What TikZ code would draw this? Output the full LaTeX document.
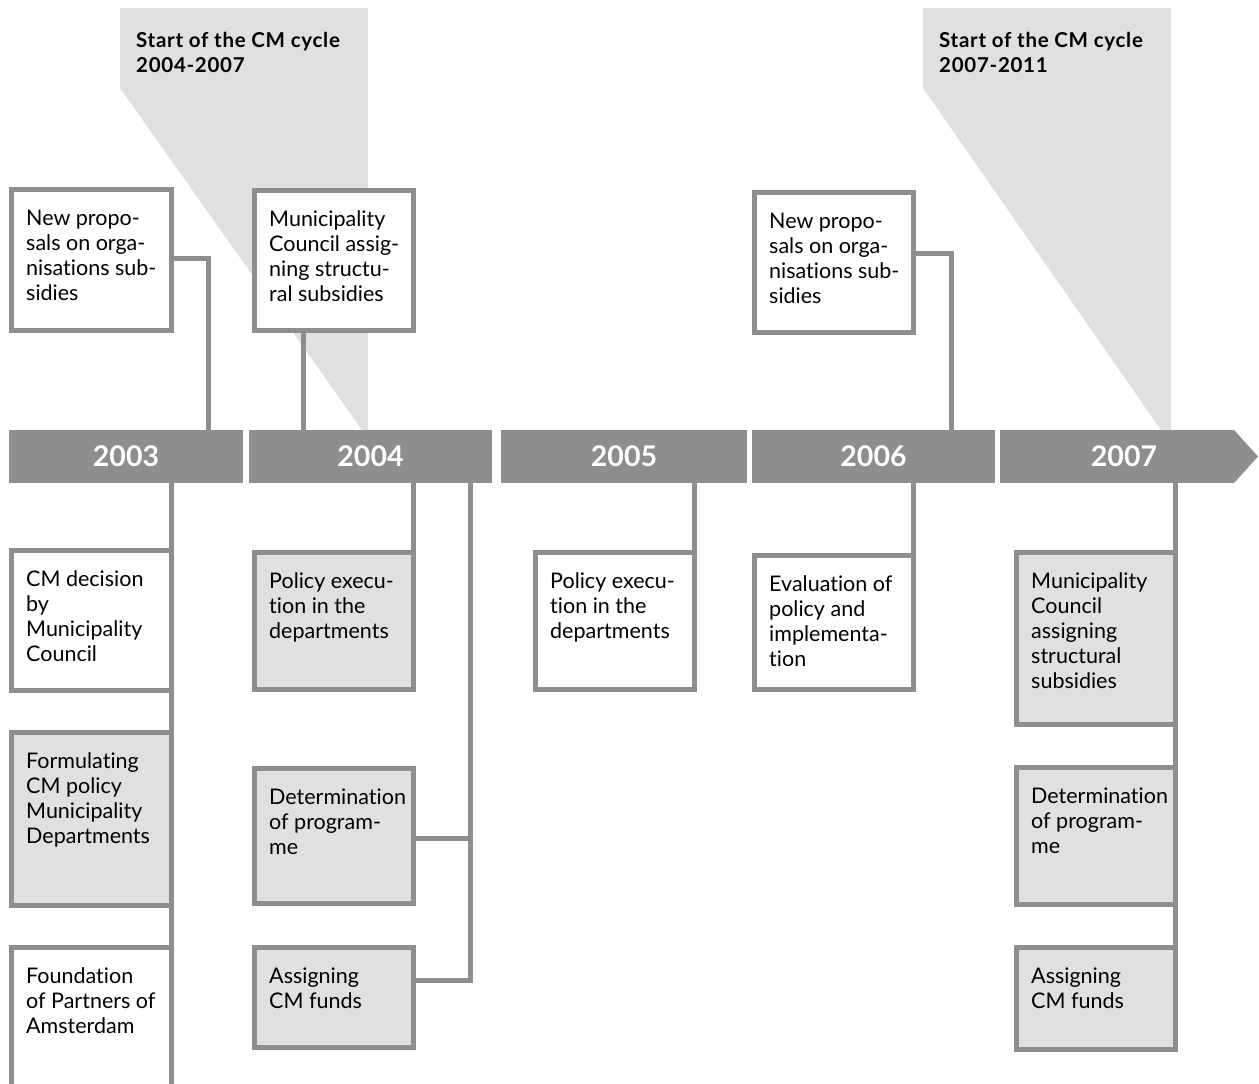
\documentclass[tikz,border=0pt]{standalone}
\usepackage{fontspec}
\setmainfont{Lato}[Ligatures=NoCommon]
\newfontfamily\calloutfont{Lato}[Ligatures=NoCommon,LetterSpace=3.5]
\definecolor{barg}{HTML}{8E8E8E}
\definecolor{lightg}{HTML}{E0E0E0}
\begin{document}
\begin{tikzpicture}[x=1pt,y=-1pt,
  box/.style={draw=barg, line width=5pt, inner sep=0pt, outer sep=0pt, anchor=north west, fill=white},
  gbox/.style={box, fill=lightg},
  conn/.style={draw=barg, line width=5pt},
  bar/.style={fill=barg, inner sep=0pt, outer sep=0pt, anchor=north west, minimum height=53pt, text=white, font=\fontsize{28.5}{28}\selectfont\bfseries},
  yearlbl/.style={inner sep=0pt, text=white, font=\fontsize{28.5}{28}\selectfont\bfseries},
  txt/.style={anchor=base west, inner sep=0pt, font=\fontsize{21.5}{25}\selectfont},
  ctxt/.style={anchor=base west, inner sep=0pt, font=\calloutfont\fontsize{20.5}{25}\selectfont\bfseries},
]
\useasboundingbox (0,0) rectangle (1259,1084);
\clip (0,0) rectangle (1259,1084);

% callouts
\fill[lightg] (120,8) -- (368,8) -- (368,430) -- (362,430) -- (120,88) -- cycle;
\fill[lightg] (923,8) -- (1171,8) -- (1171,430) -- (1161,430) -- (923,88) -- cycle;
\node[ctxt] (c1) at (136,47) {\parbox[t]{230pt}{Start of the CM cycle\\2004-2007}};
\node[ctxt] (c2) at (939,47) {\parbox[t]{230pt}{Start of the CM cycle\\2007-2011}};

% bars
\node[bar, minimum width=234pt] (y2003) at (9,430) {2003};
\node[bar, minimum width=243pt] (y2004) at (249,430) {2004};
\node[bar, minimum width=246pt] (y2005) at (501,430) {2005};
\node[bar, minimum width=243pt] (y2006) at (752,430) {2006};
\node[bar, minimum width=234pt] (y2007) at (1000,430) {};
\fill[barg] (y2007.north east) -- (1258,456.5) -- (y2007.south east) -- cycle;
\node[yearlbl] (l2007) at (1124,456.5) {2007};

% boxes
\node[box, minimum width=160pt, minimum height=141pt] (np1) at (11.5,189.5) {};
\node[box, minimum width=159pt, minimum height=140pt] (mc1) at (254.5,190.5) {};
\node[box, minimum width=159pt, minimum height=140pt] (np2) at (754.5,192.5) {};
\node[box, minimum width=160pt, minimum height=140pt] (cm) at (11.5,550.5) {};
\node[gbox, minimum width=160pt, minimum height=173pt] (form) at (11.5,732.5) {};
\node[box, minimum width=160pt, minimum height=160pt] (found) at (11.5,947.5) {};
\node[gbox, minimum width=159pt, minimum height=137pt] (pe1) at (254.5,552.5) {};
\node[gbox, minimum width=159pt, minimum height=135pt] (det1) at (254.5,768.5) {};
\node[gbox, minimum width=159pt, minimum height=100pt] (asg1) at (254.5,947.5) {};
\node[box, minimum width=159pt, minimum height=137pt] (pe2) at (535.5,552.5) {};
\node[box, minimum width=159pt, minimum height=134pt] (eval) at (754.5,555.5) {};
\node[gbox, minimum width=159pt, minimum height=172pt] (mc2) at (1016.5,552.5) {};
\node[gbox, minimum width=159pt, minimum height=137pt] (det2) at (1016.5,767.5) {};
\node[gbox, minimum width=159pt, minimum height=102pt] (asg2) at (1016.5,947.5) {};

% connectors
\coordinate (a1) at (208,258);
\coordinate (a2) at (303,400);
\coordinate (a3) at (951,253);
\coordinate (k1) at (470,838);
\coordinate (k2) at (470,980);
\coordinate (d1e) at (172,1090);
\draw[conn] (np1.east |- a1) -- (a1) -- (y2003.north -| a1);
\draw[conn] (mc1.south -| a2) -- (y2004.north -| a2);
\draw[conn] (np2.east |- a3) -- (a3) -- (y2006.north -| a3);
\draw[conn] (y2003.south -| cm.east) -- (cm.east |- d1e);
\draw[conn] (y2004.south -| pe1.east) -- (pe1.north east);
\draw[conn] (y2004.south -| k2) -- (k2) -- (asg1.east |- k2);
\draw[conn] (k1) -- (det1.east |- k1);
\draw[conn] (y2005.south -| pe2.east) -- (pe2.north east);
\draw[conn] (y2006.south -| eval.east) -- (eval.north east);
\draw[conn] (y2007.south -| mc2.east) -- (asg2.south east);

% texts
\node[txt] (t1) at ([shift={(14.5,35.5)}]np1.north west) {\parbox[t]{160pt}{New propo-\\sals on orga-\\nisations sub-\\sidies}};
\node[txt] (t2) at ([shift={(14.5,35.5)}]mc1.north west) {\parbox[t]{160pt}{Municipality\\Council assig-\\ning structu-\\ral subsidies}};
\node[txt] (t3) at ([shift={(14.5,35.5)}]np2.north west) {\parbox[t]{160pt}{New propo-\\sals on orga-\\nisations sub-\\sidies}};
\node[txt] (t4) at ([shift={(14.5,35.5)}]cm.north west) {\parbox[t]{160pt}{CM decision\\by\\Municipality\\Council}};
\node[txt] (t5) at ([shift={(14.5,35.5)}]form.north west) {\parbox[t]{160pt}{Formulating\\CM policy\\Municipality\\Departments}};
\node[txt] (t6) at ([shift={(14.5,35.5)}]found.north west) {\parbox[t]{160pt}{Foundation\\of Partners of\\Amsterdam}};
\node[txt] (t7) at ([shift={(14.5,35.5)}]pe1.north west) {\parbox[t]{160pt}{Policy execu-\\tion in the\\departments}};
\node[txt] (t8) at ([shift={(14.5,35.5)}]det1.north west) {\parbox[t]{160pt}{Determination\\of program-\\me}};
\node[txt] (t9) at ([shift={(14.5,35.5)}]asg1.north west) {\parbox[t]{160pt}{Assigning\\CM funds}};
\node[txt] (t10) at ([shift={(14.5,35.5)}]pe2.north west) {\parbox[t]{160pt}{Policy execu-\\tion in the\\departments}};
\node[txt] (t11) at ([shift={(14.5,35.5)}]eval.north west) {\parbox[t]{160pt}{Evaluation of\\policy and\\implementa-\\tion}};
\node[txt] (t12) at ([shift={(14.5,35.5)}]mc2.north west) {\parbox[t]{160pt}{Municipality\\Council\\assigning\\structural\\subsidies}};
\node[txt] (t13) at ([shift={(14.5,35.5)}]det2.north west) {\parbox[t]{160pt}{Determination\\of program-\\me}};
\node[txt] (t14) at ([shift={(14.5,35.5)}]asg2.north west) {\parbox[t]{160pt}{Assigning\\CM funds}};
\end{tikzpicture}
\end{document}
